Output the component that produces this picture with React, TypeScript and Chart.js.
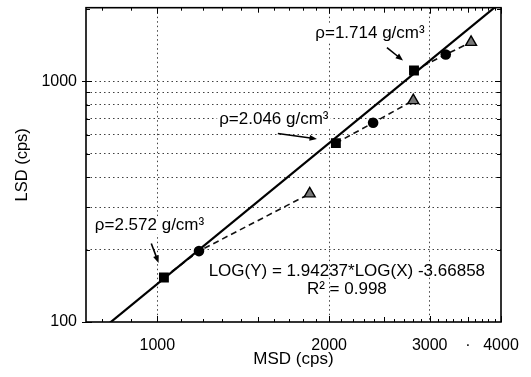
import React, { useEffect, useRef } from 'react';
import { Chart, registerables } from 'chart.js';

Chart.register(...registerables);

// ---- data ----
const squareMSD = [1027, 2055, 2816];
const squareLSD = [153, 553, 1108];
const circleMSD = [1183, 2388, 3201];
const circleLSD = [197, 672, 1291];
const triangleMSD = [1849, 2808, 3545];
const triangleLSD = [341, 832, 1452];

// regression line LOG(Y) = 1.94237*LOG(X) - 3.66858, end points
const fitMSD = [750, 4000];
const fitLSD = [82.3, 2128];

const xTickValues = [1000, 2000, 3000, 3500, 4000];
const xTickLabels = ['1000', '2000', '3000', '·', '4000'];
const xGridValues = [1000, 2000, 3000];
const yTickValues = [100, 200, 300, 400, 500, 600, 700, 800, 900, 1000, 2000];
const yLabelValues = [100, 1000];
const yGridValues = [200, 300, 400, 500, 600, 700, 800, 900, 1000];

const xMinorTicks = [800, 900, 1000, 1100, 1200, 1300, 1400, 1500, 1600, 1700, 1800, 1900, 2000, 2100, 2200, 2300, 2400, 2500, 2600, 2700, 2800, 2900, 3000, 3100, 3200, 3300, 3400, 3500, 3600, 3700, 3800, 3900, 4000];
const xMajorTicks = [1000, 2000, 3000, 4000];
const xMidTicks = [1500, 2500, 3500];
const yMinorTicks = [200, 300, 400, 500, 600, 700, 800, 900, 1000, 2000];
const yMajorTicks = [100, 1000];

const labelTexts = ['ρ=2.572 g/cm³', 'ρ=2.046 g/cm³', 'ρ=1.714 g/cm³'];
const equationText = 'LOG(Y) = 1.94237*LOG(X) -3.66858';
const r2Text = 'R² = 0.998';

// annotation anchors in data coordinates
const labelAnchors = [
  { x: 969, y: 252 },
  { x: 1600, y: 698 },
  { x: 2358, y: 1578 },
];
const arrowTails = [
  { x: 976, y: 212 },
  { x: 1626, y: 607 },
  { x: 2525, y: 1380 },
];
const arrowHeads = [
  { x: 1005, y: 176 },
  { x: 1904, y: 576 },
  { x: 2694, y: 1219 },
];
const equationAnchor = { x: 2148, y: 162 };
const r2Anchor = { x: 2148, y: 136.7 };

const FONT = '"Liberation Sans", Arial, Helvetica, sans-serif';

const overlay = {
  id: 'overlay',
  afterDraw(chart: any) {
    const { ctx, chartArea: a } = chart;
    const xs = chart.scales.x;
    const ys = chart.scales.y;
    ctx.save();
    ctx.strokeStyle = '#000';
    ctx.lineWidth = 1;
    const seg = (x1: number, y1: number, x2: number, y2: number) => {
      ctx.beginPath();
      ctx.moveTo(x1, y1);
      ctx.lineTo(x2, y2);
      ctx.stroke();
    };
    xMinorTicks.forEach((v) => {
      const px = Math.round(xs.getPixelForValue(v)) + 0.5;
      const len = xMajorTicks.includes(v) ? 6 : xMidTicks.includes(v) ? 5 : 3;
      seg(px, a.bottom, px, a.bottom - len);
      seg(px, a.top, px, a.top + len);
    });
    yMinorTicks.forEach((v) => {
      const py = Math.round(ys.getPixelForValue(v)) + 0.5;
      const len = yMajorTicks.includes(v) ? 6 : 4;
      seg(a.left, py, a.left + len, py);
      seg(a.right, py, a.right - len, py);
    });
    yMajorTicks.forEach((v) => {
      const py = Math.round(ys.getPixelForValue(v)) + 0.5;
      seg(a.left - 4, py, a.left + 6, py);
    });
    // frame
    ctx.lineWidth = 1.6;
    ctx.strokeRect(a.left, a.top, a.right - a.left, a.bottom - a.top);

    // density labels
    ctx.font = '17px ' + FONT;
    ctx.textAlign = 'center';
    ctx.textBaseline = 'middle';
    labelTexts.forEach((t, i) => {
      const px = xs.getPixelForValue(labelAnchors[i].x);
      const py = ys.getPixelForValue(labelAnchors[i].y);
      const w = ctx.measureText(t).width;
      ctx.fillStyle = '#fff';
      ctx.fillRect(px - w / 2 - 2, py - 9, w + 4, 18);
      ctx.fillStyle = '#000';
      ctx.fillText(t, px, py);
      // arrow
      const tx = xs.getPixelForValue(arrowTails[i].x);
      const ty = ys.getPixelForValue(arrowTails[i].y);
      const hx = xs.getPixelForValue(arrowHeads[i].x);
      const hy = ys.getPixelForValue(arrowHeads[i].y);
      const ang = Math.atan2(hy - ty, hx - tx);
      const hl = 8;
      ctx.strokeStyle = '#000';
      ctx.lineWidth = 1.6;
      seg(tx, ty, hx - Math.cos(ang) * hl * 0.6, hy - Math.sin(ang) * hl * 0.6);
      ctx.fillStyle = '#000';
      ctx.beginPath();
      ctx.moveTo(hx, hy);
      ctx.lineTo(hx - Math.cos(ang - 0.38) * hl, hy - Math.sin(ang - 0.38) * hl);
      ctx.lineTo(hx - Math.cos(ang + 0.38) * hl, hy - Math.sin(ang + 0.38) * hl);
      ctx.closePath();
      ctx.fill();
    });
    ctx.fillStyle = '#000';
    ctx.fillText(equationText, xs.getPixelForValue(equationAnchor.x), ys.getPixelForValue(equationAnchor.y));
    ctx.fillText(r2Text, xs.getPixelForValue(r2Anchor.x), ys.getPixelForValue(r2Anchor.y));
    ctx.restore();
  },
};

export default function App() {
  const ref = useRef<HTMLCanvasElement | null>(null);
  useEffect(() => {
    if (!ref.current) return;
    const groups = [0, 1, 2].map((i) => ({
      data: [
        { x: squareMSD[i], y: squareLSD[i] },
        { x: circleMSD[i], y: circleLSD[i] },
        { x: triangleMSD[i], y: triangleLSD[i] },
      ],
      showLine: true,
      borderColor: '#111',
      borderWidth: 1.6,
      borderDash: [6, 4],
      pointStyle: ['rect', 'circle', 'triangle'],
      pointRadius: [7, 5.3, 6.3],
      pointBackgroundColor: ['#000', '#000', '#777'],
      pointBorderColor: '#000',
      pointBorderWidth: [0, 0, 1.4],
      order: 2,
    }));
    const chart = new Chart(ref.current, {
      type: 'scatter',
      data: {
        datasets: [
          {
            data: fitMSD.map((x, i) => ({ x, y: fitLSD[i] })),
            showLine: true,
            borderColor: '#000',
            borderWidth: 2.2,
            pointRadius: 0,
            order: 1,
          } as any,
          ...(groups as any[]),
        ],
      },
      options: {
        animation: false,
        responsive: false,
        layout: { padding: { top: 7, right: 30, left: 0, bottom: 0 } },
        plugins: { legend: { display: false }, tooltip: { enabled: false } },
        scales: {
          x: {
            type: 'logarithmic',
            min: 750,
            max: 4000,
            afterBuildTicks: (s: any) => {
              s.ticks = xTickValues.map((v) => ({ value: v }));
            },
            afterFit: (s: any) => {
              s.height = 55;
              s.paddingLeft = 0;
              s.paddingRight = 0;
            },
            ticks: {
              autoSkip: false,
              maxRotation: 0,
              padding: 14,
              color: '#000',
              font: { family: FONT, size: 16 },
              callback: (v: any) => {
                const i = xTickValues.indexOf(Number(v));
                return i >= 0 ? xTickLabels[i] : '';
              },
            },
            grid: {
              drawTicks: false,
              lineWidth: 1,
              color: (c: any) => (c.tick && xGridValues.includes(c.tick.value) ? 'rgba(0,0,0,0.75)' : 'transparent'),
              borderDash: [1.5, 3],
            } as any,
            border: { display: false, dash: [1.5, 3] } as any,
            title: {
              display: true,
              text: 'MSD (cps)',
              color: '#000',
              font: { family: FONT, size: 17 },
              padding: { top: 0, bottom: 7 },
            },
          },
          y: {
            type: 'logarithmic',
            min: 100,
            max: 2020,
            afterBuildTicks: (s: any) => {
              s.ticks = yTickValues.map((v) => ({ value: v }));
            },
            afterFit: (s: any) => {
              s.width = 86;
              s.paddingTop = 0;
              s.paddingBottom = 0;
            },
            ticks: {
              autoSkip: false,
              padding: 9,
              color: '#000',
              font: { family: FONT, size: 16 },
              callback: (v: any) => (yLabelValues.includes(Number(v)) ? String(v) : ''),
            },
            grid: {
              drawTicks: false,
              lineWidth: 1,
              color: (c: any) => (c.tick && yGridValues.includes(c.tick.value) ? 'rgba(0,0,0,0.75)' : 'transparent'),
              borderDash: [1.5, 3],
            } as any,
            border: { display: false, dash: [1.5, 3] } as any,
            title: {
              display: true,
              text: 'LSD (cps)',
              color: '#000',
              font: { family: FONT, size: 16.5 },
              padding: { top: 13, bottom: 0 },
            },
          },
        },
      } as any,
      plugins: [overlay],
    });
    return () => chart.destroy();
  }, []);
  return (
    <div style={{ position: 'fixed', left: 0, top: 0, width: 531, height: 377, background: '#fff' }}>
      <canvas ref={ref} width={531} height={377} style={{ display: 'block' }} />
    </div>
  );
}
